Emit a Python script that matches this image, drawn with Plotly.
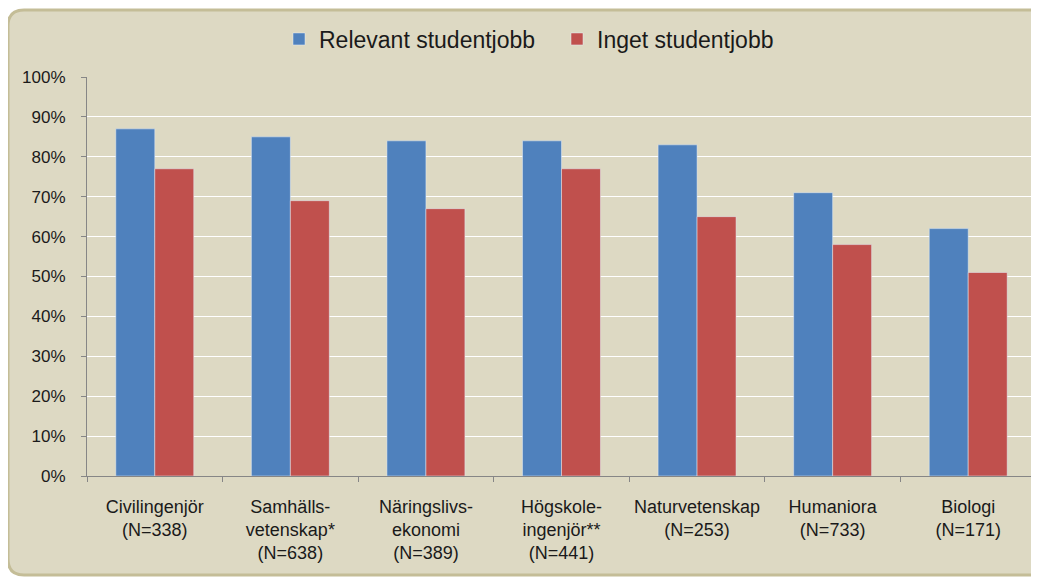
import plotly.graph_objects as go

categories = ["Civilingenjör<br>(N=338)", "Samhälls-<br>vetenskap*<br>(N=638)",
              "Näringslivs-<br>ekonomi<br>(N=389)", "Högskole-<br>ingenjör**<br>(N=441)",
              "Naturvetenskap<br>(N=253)", "Humaniora<br>(N=733)", "Biologi<br>(N=171)"]
relevant = [0.87, 0.85, 0.84, 0.84, 0.83, 0.71, 0.62]
inget = [0.77, 0.69, 0.67, 0.77, 0.65, 0.58, 0.51]
series_names = ["Relevant studentjobb", "Inget studentjobb"]
y_ticks = [i / 10 for i in range(11)]

OFF = 8  # page body margin offset
W, H = 1039 - OFF, 577 - OFF
L, R, T, B = 87 - OFF, 1036 - OFF, 77 - OFF, 476 - OFF

def px(x):
    return (x - OFF - L) / (R - L)

def py(y):
    return (B - (y - OFF)) / (B - T)

fig = go.Figure()
fig.add_trace(go.Bar(x=categories, y=relevant, name=series_names[0], marker_color="#4f81bd"))
fig.add_trace(go.Bar(x=categories, y=inget, name=series_names[1], marker_color="#c0504d"))

# rounded frame
x0, y0, x1, y1, r = 8, 10, 1060, 575, 16
path = (f"M {px(x0 + r)},{py(y0)} L {px(x1 - r)},{py(y0)} "
        f"Q {px(x1)},{py(y0)} {px(x1)},{py(y0 + r)} "
        f"L {px(x1)},{py(y1 - r)} Q {px(x1)},{py(y1)} {px(x1 - r)},{py(y1)} "
        f"L {px(x0 + r)},{py(y1)} Q {px(x0)},{py(y1)} {px(x0)},{py(y1 - r)} "
        f"L {px(x0)},{py(y0 + r)} Q {px(x0)},{py(y0)} {px(x0 + r)},{py(y0)} Z")
fig.add_shape(type="path", xref="paper", yref="paper", path=path,
              fillcolor="#ddd9c3", line=dict(color="#c4bd97", width=3), layer="below")

font = "Liberation Sans, Arial, sans-serif"
fig.update_layout(
    width=W, height=H,
    margin=dict(l=L, r=W - R, t=T, b=H - B, pad=0),
    paper_bgcolor="white",
    plot_bgcolor="#f0f0f0",
    barmode="group",
    bargap=0.425,
    bargroupgap=0,
    font=dict(family=font, color="#1a1a1a"),
    legend=dict(orientation="h", x=px(557), xanchor="center", y=py(39), yanchor="middle",
                font=dict(size=23, color="#1a1a1a"), bgcolor="rgba(0,0,0,0)",
                itemwidth=30, entrywidth=233, traceorder="normal"),
    xaxis=dict(showline=True, linecolor="#868686", linewidth=1, ticks="outside",
               tickson="boundaries", ticklen=5, tickcolor="#868686",
               tickfont=dict(size=18), ticklabelstandoff=14, showgrid=False),
    yaxis=dict(range=[0, 1], tickvals=y_ticks, tickformat=".0%", showline=True,
               linecolor="#868686", linewidth=1, ticks="outside", ticklen=5,
               tickcolor="#868686", tickfont=dict(size=17), ticklabelstandoff=12,
               gridcolor="white", gridwidth=1, zeroline=False),
)

fig.write_html("out.html")
